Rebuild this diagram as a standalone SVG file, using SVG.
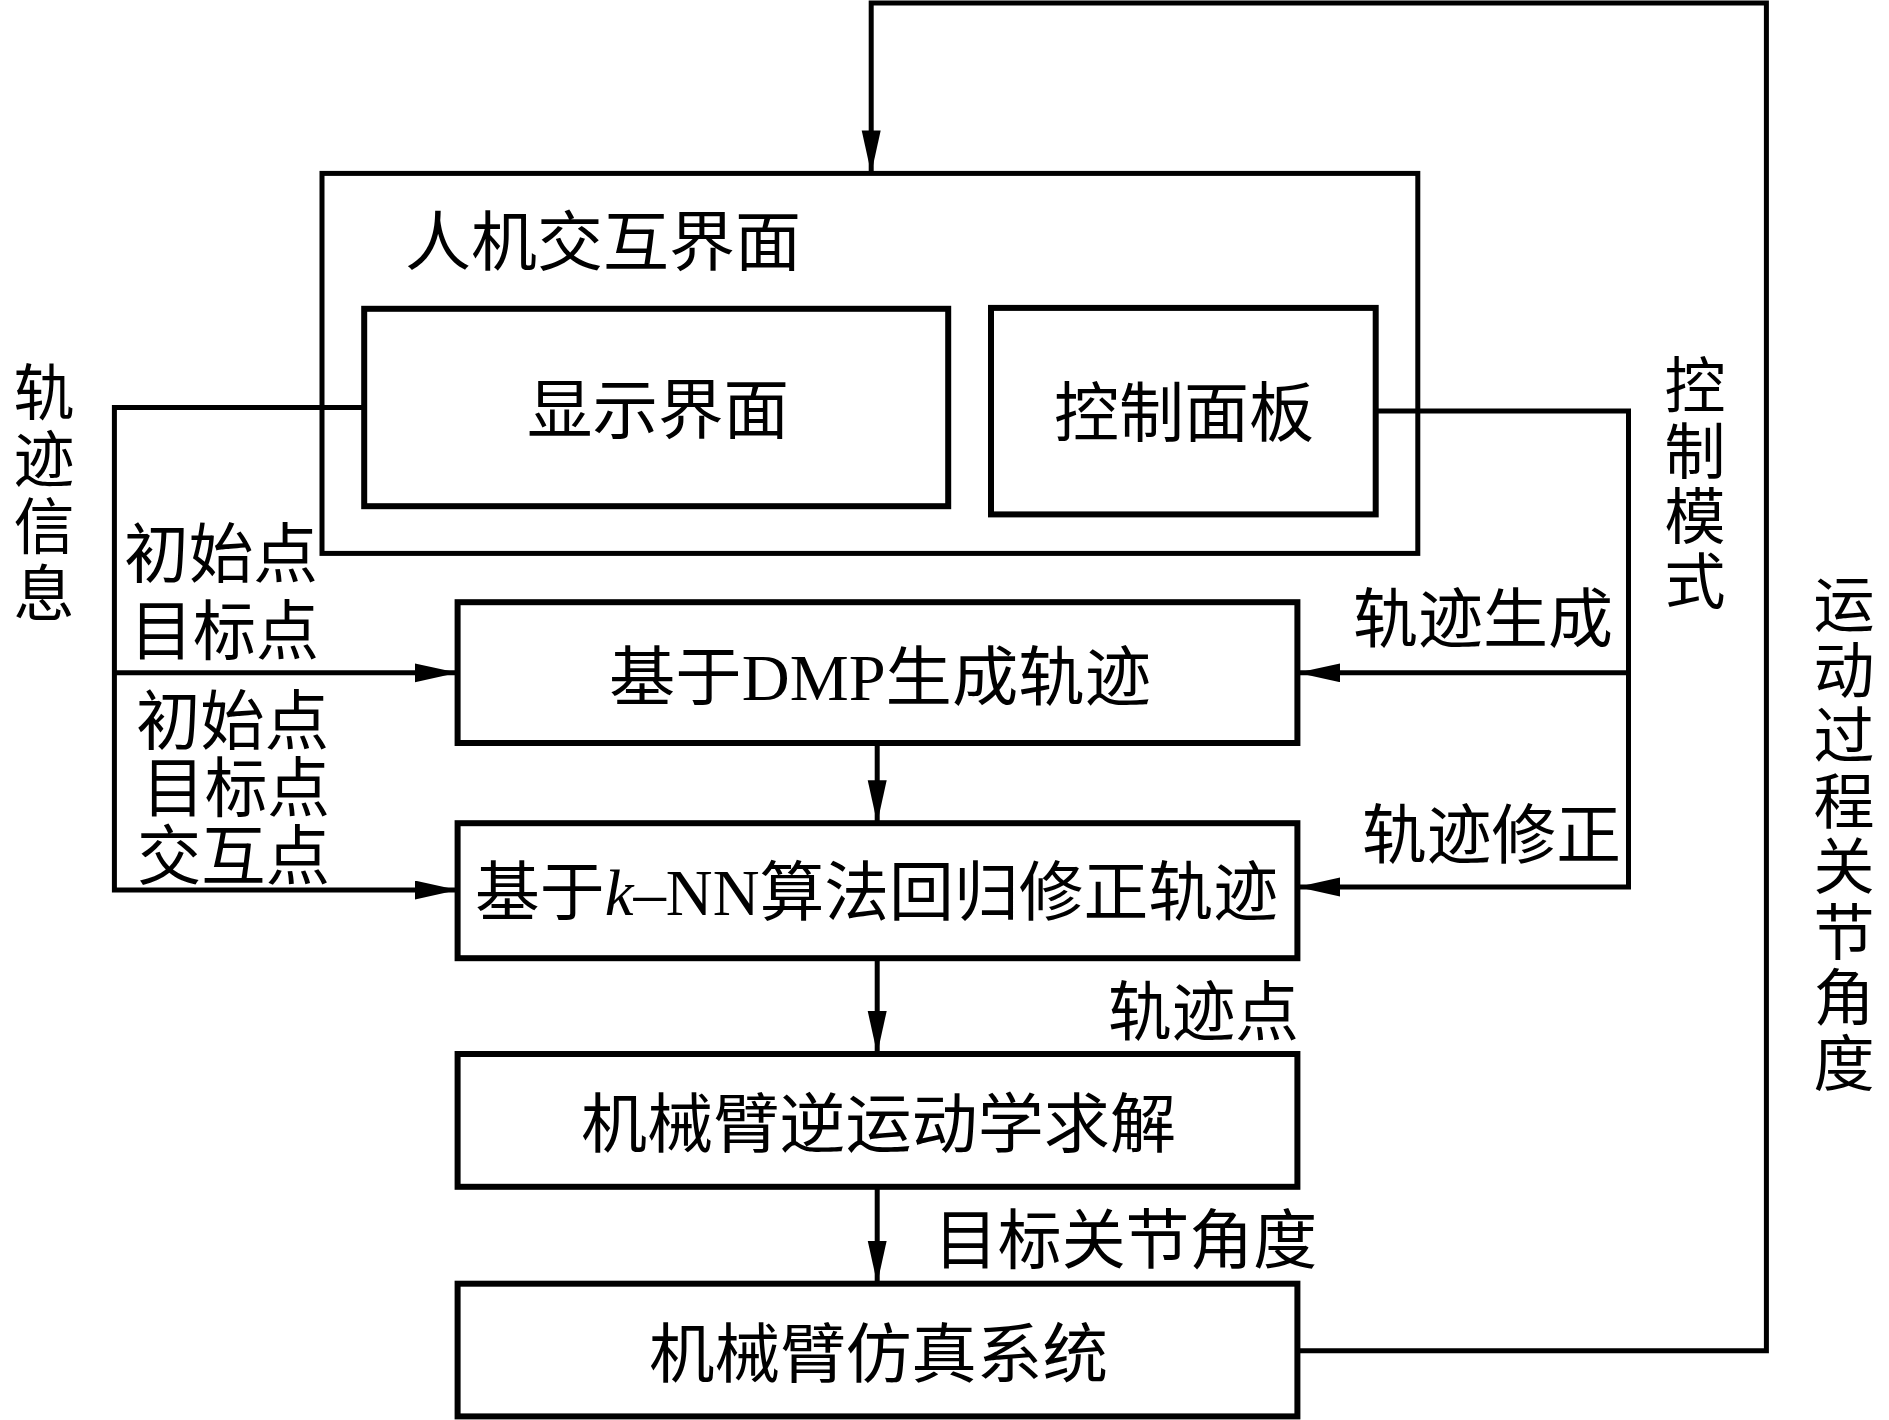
<svg xmlns="http://www.w3.org/2000/svg" width="1889" height="1420" viewBox="0 0 1889 1420">
<defs>
<style>
.box{fill:#fff;stroke:#000;stroke-width:6}
.outer{fill:#fff;stroke:#000;stroke-width:5}
.ln{fill:none;stroke:#000;stroke-width:5}
text{font-family:"Liberation Serif","Noto Sans CJK SC",serif;font-size:65px;fill:#000}
.v{text-anchor:middle;font-size:61px}
</style>
<marker id="ah" markerUnits="userSpaceOnUse" markerWidth="44" markerHeight="20" refX="43" refY="9.5" orient="auto">
<path d="M0,0 L43,9.5 L0,19 z" fill="#000"/>
</marker>
</defs>
<rect width="1889" height="1420" fill="#fff"/>

<g id="hmi">
<rect class="outer" x="322" y="173.4" width="1095.8" height="380"/>
<text x="405" y="265" textLength="396" lengthAdjust="spacingAndGlyphs">人机交互界面</text>
</g>
<g id="display">
<rect class="box" x="364.2" y="308.8" width="584" height="197.4"/>
<text x="527" y="433" textLength="262" lengthAdjust="spacingAndGlyphs">显示界面</text>
</g>
<g id="panel">
<rect class="box" x="991" y="307.9" width="384.7" height="206.5"/>
<text x="1054" y="436" textLength="260" lengthAdjust="spacingAndGlyphs">控制面板</text>
</g>
<g id="dmp">
<rect class="box" x="457.6" y="602.2" width="839.8" height="140.8"/>
<text x="609" y="700" textLength="542" lengthAdjust="spacingAndGlyphs">基于DMP生成轨迹</text>
</g>
<g id="knn">
<rect class="box" x="457.6" y="823.2" width="839.8" height="135"/>
<text x="475" y="915" textLength="803" lengthAdjust="spacingAndGlyphs">基于<tspan font-style="italic">k</tspan>–NN算法回归修正轨迹</text>
</g>
<g id="ik">
<rect class="box" x="457.6" y="1054" width="839.8" height="132.8"/>
<text x="581" y="1147" textLength="595" lengthAdjust="spacingAndGlyphs">机械臂逆运动学求解</text>
</g>
<g id="sim">
<rect class="box" x="457.6" y="1283.7" width="839.8" height="132.7"/>
<text x="649" y="1377" textLength="459" lengthAdjust="spacingAndGlyphs">机械臂仿真系统</text>
</g>

<g id="connectors">
<polyline class="ln" points="1297.4,1350.7 1766.4,1350.7 1766.4,3 871.2,3 871.2,173.4" marker-end="url(#ah)"/>
<polyline class="ln" points="364.2,407.5 114.4,407.5 114.4,890 457.6,890" marker-end="url(#ah)"/>
<line class="ln" x1="114.4" y1="672.8" x2="457.6" y2="672.8" marker-end="url(#ah)"/>
<polyline class="ln" points="1375.7,411 1628.5,411 1628.5,887 1297.4,887" marker-end="url(#ah)"/>
<line class="ln" x1="1628.5" y1="672.8" x2="1297.4" y2="672.8" marker-end="url(#ah)"/>
<line class="ln" x1="877.2" y1="743" x2="877.2" y2="823.2" marker-end="url(#ah)"/>
<line class="ln" x1="877.2" y1="958.2" x2="877.2" y2="1054" marker-end="url(#ah)"/>
<line class="ln" x1="877.2" y1="1186.8" x2="877.2" y2="1283.7" marker-end="url(#ah)"/>
</g>

<g id="labels">
<text class="v" x="44" y="415">轨</text>
<text class="v" x="44" y="482">迹</text>
<text class="v" x="44" y="549">信</text>
<text class="v" x="44" y="616">息</text>
<text x="124" y="577" textLength="194" lengthAdjust="spacingAndGlyphs">初始点</text>
<text x="130" y="654" textLength="189" lengthAdjust="spacingAndGlyphs">目标点</text>
<text x="136" y="744" textLength="193" lengthAdjust="spacingAndGlyphs">初始点</text>
<text x="142" y="811" textLength="188" lengthAdjust="spacingAndGlyphs">目标点</text>
<text x="137" y="879" textLength="193" lengthAdjust="spacingAndGlyphs">交互点</text>
<text x="1353" y="642" textLength="260" lengthAdjust="spacingAndGlyphs">轨迹生成</text>
<text x="1362" y="858" textLength="259" lengthAdjust="spacingAndGlyphs">轨迹修正</text>
<text x="1108" y="1035" textLength="191" lengthAdjust="spacingAndGlyphs">轨迹点</text>
<text x="934" y="1263" textLength="383" lengthAdjust="spacingAndGlyphs">目标关节角度</text>
<text class="v" x="1695" y="408">控</text>
<text class="v" x="1695" y="474">制</text>
<text class="v" x="1695" y="539">模</text>
<text class="v" x="1695" y="604">式</text>
<text class="v" x="1844" y="627">运</text>
<text class="v" x="1844" y="693">动</text>
<text class="v" x="1844" y="758">过</text>
<text class="v" x="1844" y="824">程</text>
<text class="v" x="1844" y="889">关</text>
<text class="v" x="1844" y="955">节</text>
<text class="v" x="1844" y="1020">角</text>
<text class="v" x="1844" y="1086">度</text>
</g>
</svg>
